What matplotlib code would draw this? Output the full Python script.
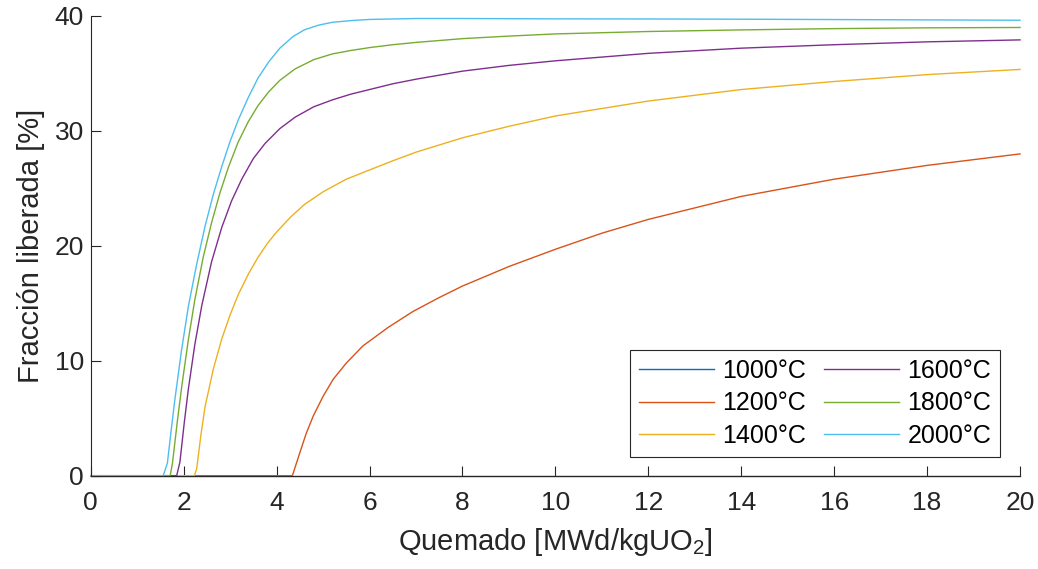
import matplotlib
matplotlib.use('Agg')
import matplotlib.pyplot as plt

plt.rcParams['font.family'] = ['Liberation Sans', 'DejaVu Sans']
plt.rcParams['mathtext.fontset'] = 'custom'
plt.rcParams['mathtext.rm'] = 'Liberation Sans'
plt.rcParams['mathtext.it'] = 'Liberation Sans'

# valores (quemado en MWd/kgUO2, fraccion en %)
x_1000 = [0, 20]
y_1000 = [0, 0]

x_1200 = [0, 4.34, 4.42, 4.50, 4.64, 4.79, 5.0, 5.22, 5.5, 5.86, 6.4, 6.94, 7.5, 8,
          9, 10, 11, 12, 13, 14, 16, 18, 20]
y_1200 = [0, 0, 1.0, 2.0, 3.7, 5.2, 6.9, 8.4, 9.8, 11.3, 12.9, 14.3, 15.5, 16.5,
          18.2, 19.7, 21.1, 22.3, 23.3, 24.3, 25.8, 27.0, 28.0]

x_1400 = [0, 2.23, 2.28, 2.37, 2.46, 2.64, 2.82, 3.0, 3.18, 3.4, 3.6, 3.8, 4.0, 4.3,
          4.6, 5.0, 5.5, 6.0, 6.5, 7, 8, 9, 10, 12, 14, 16, 18, 20]
y_1400 = [0, 0, 0.6, 3.5, 6.0, 9.3, 11.9, 14.0, 15.8, 17.6, 19.0, 20.2, 21.2, 22.5,
          23.6, 24.7, 25.8, 26.6, 27.4, 28.15, 29.4, 30.4, 31.3, 32.6, 33.6, 34.3, 34.9, 35.35]

x_1600 = [0, 1.85, 1.92, 2.01, 2.10, 2.24, 2.39, 2.60, 2.82, 3.03, 3.25, 3.5, 3.75,
          4.07, 4.4, 4.8, 5.2, 5.6, 6.0, 6.5, 7, 8, 9, 10, 12, 14, 16, 18, 20]
y_1600 = [0, 0, 1.2, 4.5, 7.5, 11.4, 14.8, 18.6, 21.6, 23.9, 25.8, 27.6, 28.9,
          30.2, 31.2, 32.1, 32.7, 33.2, 33.6, 34.1, 34.5, 35.2, 35.7, 36.1, 36.75, 37.2,
          37.5, 37.75, 37.92]

x_1800 = [0, 1.71, 1.76, 1.86, 1.96, 2.10, 2.24, 2.42, 2.60, 2.78, 2.96, 3.17, 3.39,
          3.6, 3.83, 4.07, 4.4, 4.8, 5.2, 5.6, 6.0, 6.5, 7, 8, 9, 10, 12, 14, 16, 18, 20]
y_1800 = [0, 0, 1.1, 4.6, 7.8, 11.8, 15.3, 19.0, 22.0, 24.6, 26.8, 29.0, 30.8,
          32.2, 33.4, 34.4, 35.4, 36.2, 36.7, 37.0, 37.25, 37.5, 37.7, 38.03, 38.25,
          38.44, 38.65, 38.79, 38.9, 38.97, 39.0]

x_2000 = [0, 1.56, 1.65, 1.73, 1.81, 1.95, 2.10, 2.28, 2.46, 2.64, 2.82, 3.0, 3.18,
          3.39, 3.60, 3.83, 4.07, 4.35, 4.6, 4.9, 5.2, 5.6, 6.0, 7, 8, 10, 12, 14, 16,
          18, 20]
y_2000 = [0, 0, 1.1, 3.9, 6.6, 10.8, 14.7, 18.4, 21.7, 24.5, 26.9, 29.1, 31.0,
          32.9, 34.6, 36.0, 37.2, 38.2, 38.8, 39.2, 39.45, 39.6, 39.7, 39.78, 39.78,
          39.75, 39.74, 39.72, 39.69, 39.66, 39.63]

etiquetas = ['1000°C', '1200°C', '1400°C', '1600°C', '1800°C', '2000°C']
colores = ['#0072BD', '#D95319', '#EDB120', '#7E2F8E', '#77AC30', '#4DBEEE']

series = [(x_1000, y_1000), (x_1200, y_1200), (x_1400, y_1400),
          (x_1600, y_1600), (x_1800, y_1800), (x_2000, y_2000)]

fig = plt.figure(figsize=(10.38, 5.69), dpi=100)
ax = fig.add_axes([0.0874, 0.164, 0.8953, 0.8079])

for (xs, ys), lab, c in zip(series, etiquetas, colores):
    ax.plot(xs, ys, color=c, lw=1.0, label=lab, clip_on=False)

ax.set_xlim(0, 20)
ax.set_ylim(0, 40)
ax.set_xticks(range(0, 21, 2))
ax.set_yticks(range(0, 41, 10))

gris = '#262626'
for lado in ['top', 'right']:
    ax.spines[lado].set_visible(False)
for lado in ['left', 'bottom']:
    ax.spines[lado].set_color(gris)
    ax.spines[lado].set_linewidth(0.8)
ax.tick_params(direction='in', length=7, width=0.8, colors=gris, labelsize=19)
ax.tick_params(axis='x', pad=11)
ax.tick_params(axis='y', pad=5)

ax.set_xlabel('Quemado [MWd/kgUO$_2$]', fontsize=21, color=gris, labelpad=8)
ax.set_ylabel('Fracción liberada [%]', fontsize=21, color=gris, labelpad=7)

leg = ax.legend(ncol=2, loc='lower right', bbox_to_anchor=(0.9785, 0.041),
                borderaxespad=0, fontsize=18, frameon=True, fancybox=False,
                edgecolor=gris, framealpha=1, handlelength=3.0, columnspacing=0.7,
                labelspacing=0.35, borderpad=0.35, handletextpad=0.35)
leg.get_frame().set_linewidth(0.8)

fig.savefig('out.png', dpi=100)
